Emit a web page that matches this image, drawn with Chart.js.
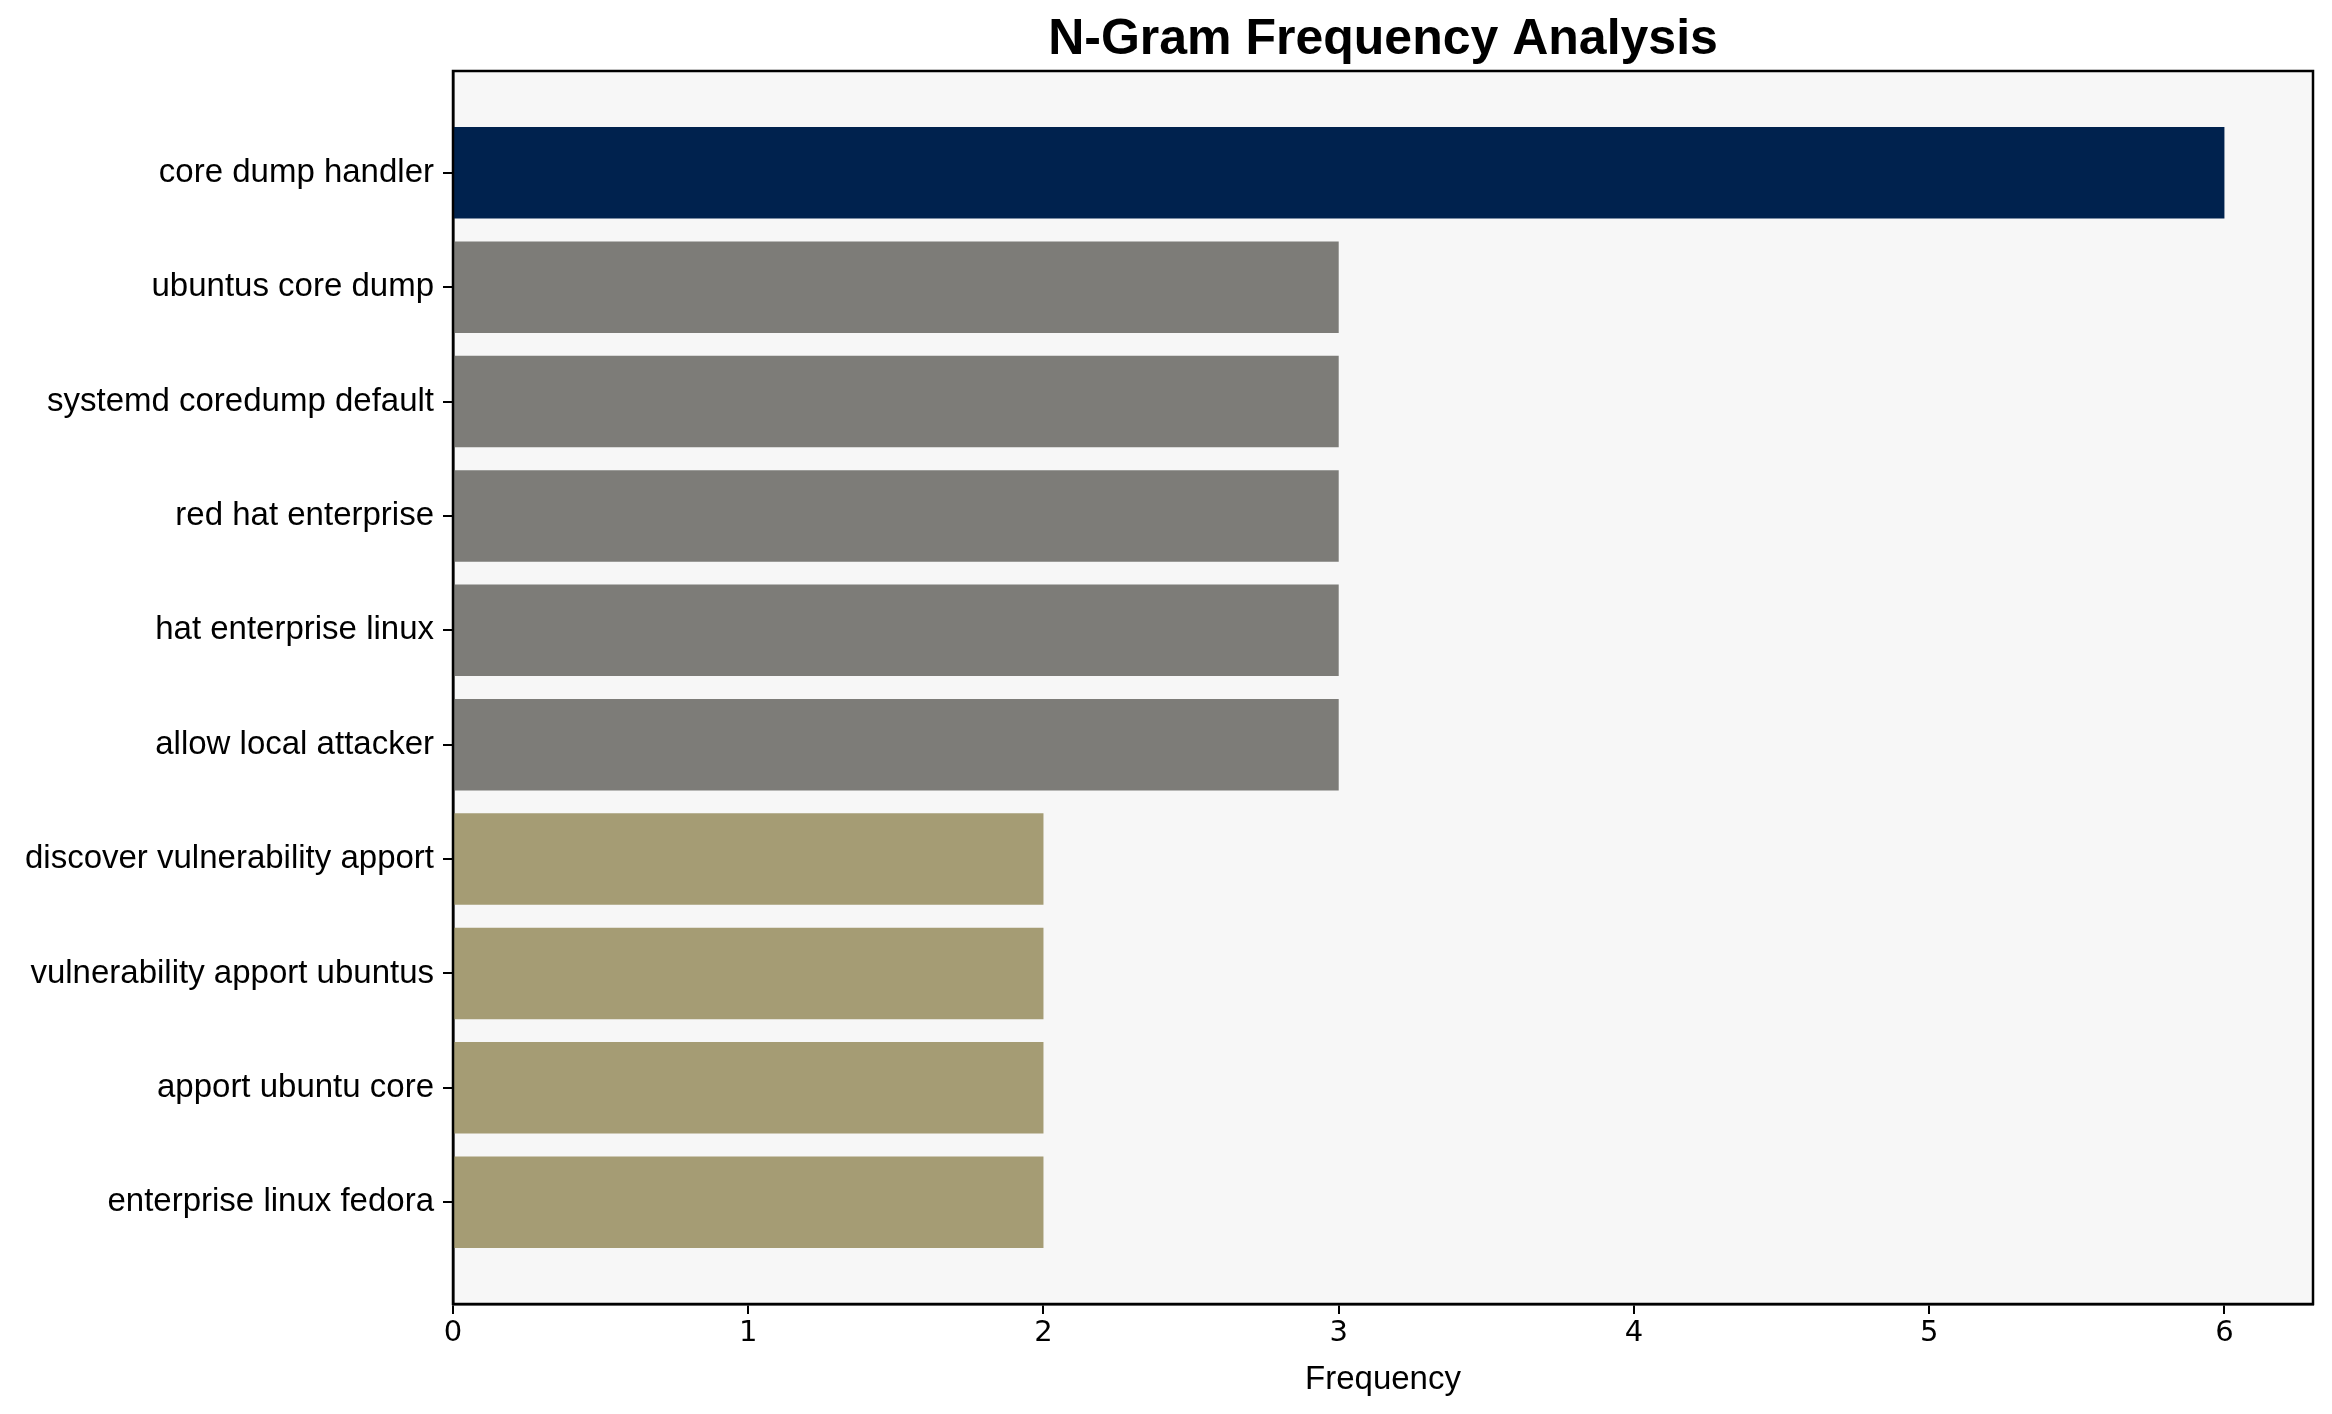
<!DOCTYPE html>
<html>
<head>
<meta charset="utf-8">
<script src="https://cdn.jsdelivr.net/npm/chart.js@4/dist/chart.umd.min.js"></script>
<style>
html,body{margin:0;padding:0;background:#fff;}
#wrap{width:2332px;height:1414px;position:relative;}
</style>
</head>
<body>
<div id="wrap"><canvas id="c"></canvas></div>
<script>
const NGRAMS=["core dump handler","ubuntus core dump","systemd coredump default","red hat enterprise",
 "hat enterprise linux","allow local attacker","discover vulnerability apport","vulnerability apport ubuntus",
 "apport ubuntu core","enterprise linux fedora"];
const FREQ=[6,3,3,3,3,3,2,2,2,2];
const X_TICKS=[0,1,2,3,4,5,6];
const BAR_COLORS=["#00224e","#7d7c78","#7d7c78","#7d7c78","#7d7c78","#7d7c78","#a59c74","#a59c74","#a59c74","#a59c74"];

const frame={id:"frame",
  beforeDraw(ch){const a=ch.chartArea,x=ch.ctx;x.save();x.fillStyle="#f7f7f7";
    x.fillRect(a.left,a.top,a.right-a.left,a.bottom-a.top);x.restore();},
  afterDraw(ch){const a=ch.chartArea,x=ch.ctx;x.save();x.strokeStyle="#000";x.lineWidth=2.5;
    x.strokeRect(a.left,a.top,a.right-a.left,a.bottom-a.top);x.restore();}};

new Chart(document.getElementById("c"),{type:"bar",
  data:{datasets:[{data:FREQ.map((v,i)=>({x:v,y:i})),backgroundColor:BAR_COLORS,
    barPercentage:0.8,categoryPercentage:1}]},
  plugins:[frame],
  options:{indexAxis:"y",responsive:true,maintainAspectRatio:false,animation:false,
    layout:{padding:{left:0,right:19,top:0,bottom:0}},
    scales:{
      x:{type:"linear",min:0,max:6.3,
        afterBuildTicks:s=>{s.ticks=X_TICKS.map(v=>({value:v}));},
        afterFit:s=>{s.height=110;},
        grid:{display:true,drawOnChartArea:false,drawTicks:true,tickLength:10,color:"#000",lineWidth:2},
        border:{display:true,color:"#000",width:2.5},
        ticks:{color:"#000",padding:2,font:{family:"DejaVu Sans",size:29}},
        title:{display:true,text:"Frequency",color:"#000",font:{family:"Liberation Sans, Arial",size:33},padding:{top:0,bottom:14}}},
      y:{type:"linear",min:-0.89,max:9.89,reverse:true,offset:false,
        afterBuildTicks:s=>{s.ticks=NGRAMS.map((_,i)=>({value:i}));},
        afterFit:s=>{s.width=453;},
        grid:{display:true,offset:false,drawOnChartArea:false,drawTicks:true,tickLength:10,color:"#000",lineWidth:2},
        border:{display:true,color:"#000",width:2.5},
        ticks:{color:"#000",padding:9,font:{family:"Liberation Sans, Arial",size:33},callback:v=>NGRAMS[v]}}},
    plugins:{legend:{display:false},tooltip:{enabled:false},
      title:{display:true,text:"N-Gram Frequency Analysis",fullSize:false,color:"#000",
        font:{family:"Liberation Sans, Arial",size:50,weight:"bold"},padding:{top:10,bottom:1}}}}});
</script>
</body>
</html>
